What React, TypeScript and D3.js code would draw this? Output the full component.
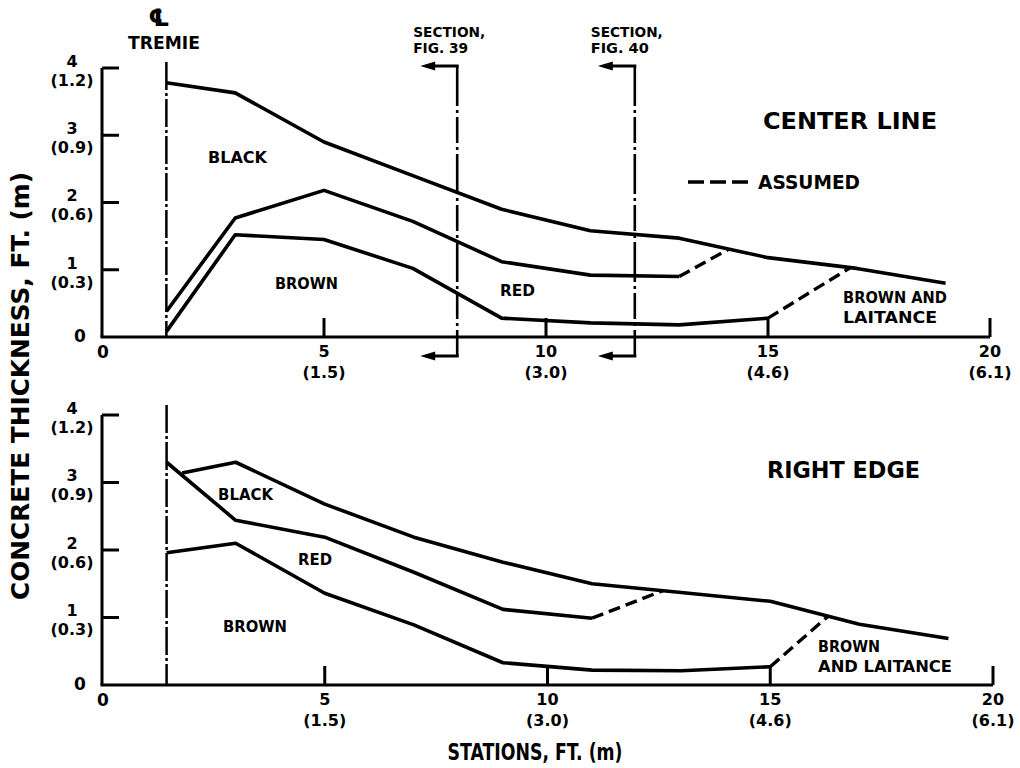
import React from "react";
import * as d3 from "d3";

// Stations along the pour (ft) and their metric equivalents
const stationTicks = [5, 10, 15, 20];
const stationMetres = ["(1.5)", "(3.0)", "(4.6)", "(6.1)"];
// Thickness ticks (ft) and metric equivalents
const thicknessTicks = [1, 2, 3, 4];
const thicknessMetres = ["(0.3)", "(0.6)", "(0.9)", "(1.2)"];

const tremieStation = 1.45;
const sectionStations = [8, 12];
const sectionFigures = ["FIG. 39", "FIG. 40"];

// CENTER LINE profile: upper boundaries of each colour layer [station ft, thickness ft]
const centerBlackTop: [number, number][] = [
  [1.45, 3.78], [3, 3.63], [5, 2.9], [7, 2.4], [9, 1.9], [11, 1.58], [13, 1.47], [15, 1.18], [17, 1.02], [19, 0.8],
];
const centerRedTop: [number, number][] = [
  [1.45, 0.38], [3, 1.77], [5, 2.18], [7, 1.72], [9, 1.12], [11, 0.92], [13, 0.9],
];
const centerRedTopAssumed: [number, number][] = [[13, 0.9], [14.1, 1.3]];
const centerBrownTop: [number, number][] = [
  [1.45, 0.08], [3, 1.52], [5, 1.45], [7, 1.02], [9, 0.28], [11, 0.21], [13, 0.18], [15, 0.28],
];
const centerBrownTopAssumed: [number, number][] = [[15, 0.28], [16.85, 1.03]];

// RIGHT EDGE profile
const edgeBlackTop: [number, number][] = [
  [1.8, 3.14], [3, 3.3], [5, 2.68], [7, 2.19], [9, 1.82], [11, 1.5], [13, 1.37], [15, 1.24], [17, 0.9], [19, 0.69],
];
const edgeRedTop: [number, number][] = [
  [1.45, 3.3], [3, 2.44], [5, 2.19], [7, 1.67], [9, 1.12], [11, 0.99],
];
const edgeRedTopAssumed: [number, number][] = [[11, 0.99], [12.6, 1.4]];
const edgeBrownTop: [number, number][] = [
  [1.45, 1.96], [3, 2.1], [5, 1.36], [7, 0.89], [9, 0.33], [11, 0.22], [13, 0.21], [15, 0.27],
];
const edgeBrownTopAssumed: [number, number][] = [[15, 0.27], [16.3, 1.02]];

const FONT = "'DejaVu Sans', Verdana, sans-serif";

type TxtProps = { x: number; y: number; s: number; w?: number; a?: "start" | "middle" | "end"; t: string };
// y is the vertical centre of capital letters
function Txt({ x, y, s, w, a = "start", t }: TxtProps) {
  return (
    <text
      x={x}
      y={y + 0.36 * s}
      fontSize={s}
      fontWeight="bold"
      fontFamily={FONT}
      textAnchor={a}
      textLength={w}
      lengthAdjust={w ? "spacingAndGlyphs" : undefined}
      fill="#000"
    >
      {t}
    </text>
  );
}

type PanelProps = {
  xRange: [number, number];
  yRange: [number, number];
  title: string;
  titlePos: [number, number, number];
  layers: { solid: [number, number][][]; dashed: [number, number][][] };
  labels: { t: string; x: number; y: number; s: number; w: number }[];
  centreTop: number;
};

function Panel({ xRange, yRange, title, titlePos, layers, labels, centreTop }: PanelProps) {
  const x = d3.scaleLinear().domain([0, 20]).range(xRange);
  const y = d3.scaleLinear().domain([0, 4]).range(yRange);
  const line = d3.line<[number, number]>().x((d) => x(d[0])).y((d) => y(d[1]));
  const base = y(0);
  const left = x(0);
  return (
    <g>
      {/* axes */}
      <line x1={left} x2={left} y1={y(4)} y2={base} stroke="#000" strokeWidth={3} />
      <line x1={left - 1.5} x2={x(20)} y1={base} y2={base} stroke="#000" strokeWidth={3} />
      {thicknessTicks.map((v, i) => (
        <g key={"yt" + v}>
          <line x1={left} x2={left + 17} y1={y(v)} y2={y(v)} stroke="#000" strokeWidth={3} />
          <Txt x={72} y={y(v) - 7} s={16} a="middle" t={String(v)} />
          <Txt x={72} y={y(v) + 12} s={16} a="middle" t={thicknessMetres[i]} />
        </g>
      ))}
      <Txt x={80} y={base - 1} s={17} a="middle" t="0" />
      <Txt x={left + 1} y={base + 15} s={17} a="middle" t="0" />
      {stationTicks.map((v, i) => (
        <g key={"xt" + v}>
          <line x1={x(v)} x2={x(v)} y1={base} y2={base - 19} stroke="#000" strokeWidth={3} />
          <Txt x={x(v)} y={base + 14} s={16} a="middle" t={String(v)} />
          <Txt x={x(v)} y={base + 35} s={16} a="middle" t={stationMetres[i]} />
        </g>
      ))}
      {/* tremie centre line */}
      <line
        x1={x(tremieStation)}
        x2={x(tremieStation)}
        y1={centreTop}
        y2={base}
        stroke="#000"
        strokeWidth={2.5}
        strokeDasharray="28,3,3,3"
      />
      {/* layer boundaries */}
      {layers.solid.map((d, i) => (
        <path key={"s" + i} d={line(d) || ""} fill="none" stroke="#000" strokeWidth={3.6} strokeLinejoin="round" />
      ))}
      {layers.dashed.map((d, i) => (
        <path key={"d" + i} d={line(d) || ""} fill="none" stroke="#000" strokeWidth={3.4} strokeDasharray="12,6" />
      ))}
      <Txt x={titlePos[0]} y={titlePos[1]} s={23} w={titlePos[2]} t={title} />
      {labels.map((l, i) => (
        <Txt key={"l" + i} x={l.x} y={l.y} s={l.s} w={l.w} t={l.t} />
      ))}
    </g>
  );
}

function SectionMark({ xPos, fig, top, bottom }: { xPos: number; fig: string; top: number; bottom: number }) {
  const tip = xPos - 37;
  const arrow = (yy: number) => (
    <g>
      <line x1={tip + 6} x2={xPos + 1.5} y1={yy} y2={yy} stroke="#000" strokeWidth={3} />
      <path d={`M${tip},${yy} L${tip + 15},${yy - 4.5} L${tip + 15},${yy + 4.5} Z`} fill="#000" />
    </g>
  );
  return (
    <g>
      <line x1={xPos} x2={xPos} y1={top} y2={bottom} stroke="#000" strokeWidth={2.6} strokeDasharray="40,4,3,4,26,4,3,4" />
      {arrow(top)}
      {arrow(bottom)}
      <Txt x={xPos - 44} y={32} s={14} w={72} t="SECTION," />
      <Txt x={xPos - 44} y={47.5} s={14} w={fig === "FIG. 39" ? 55 : 58} t={fig} />
    </g>
  );
}

export default function App() {
  const xTop = d3.scaleLinear().domain([0, 20]).range([102, 990]);
  return (
    <svg
      width={1020}
      height={768}
      viewBox="0 0 1020 768"
      style={{ position: "absolute", left: 0, top: 0, background: "#fff" }}
    >
      <rect width={1020} height={768} fill="#fff" />
      {/* centre-line symbol and tremie label */}
      <Txt x={159} y={17} s={24} a="middle" t="℄" />
      <Txt x={164} y={43} s={17} w={72} a="middle" t="TREMIE" />

      <Panel
        xRange={[102, 990]}
        yRange={[337, 68]}
        title="CENTER LINE"
        titlePos={[763, 121, 174]}
        centreTop={62}
        layers={{
          solid: [centerBlackTop, centerRedTop, centerBrownTop],
          dashed: [centerRedTopAssumed, centerBrownTopAssumed],
        }}
        labels={[
          { t: "BLACK", x: 208, y: 157, s: 16, w: 59 },
          { t: "BROWN", x: 275, y: 283, s: 16, w: 63 },
          { t: "RED", x: 500, y: 290, s: 16, w: 35 },
          { t: "BROWN AND", x: 843, y: 298, s: 15, w: 104 },
          { t: "LAITANCE", x: 843, y: 318, s: 15, w: 94 },
        ]}
      />

      {sectionStations.map((s, i) => (
        <SectionMark key={s} xPos={xTop(s)} fig={sectionFigures[i]} top={66} bottom={356} />
      ))}

      {/* legend */}
      <line x1={688} x2={750} y1={182} y2={182} stroke="#000" strokeWidth={3.4} strokeDasharray="16,6" />
      <Txt x={758} y={182} s={19} w={102} t="ASSUMED" />

      <Panel
        xRange={[102, 993]}
        yRange={[685, 415]}
        title="RIGHT EDGE"
        titlePos={[767, 470, 153]}
        centreTop={405}
        layers={{
          solid: [edgeBlackTop, edgeRedTop, edgeBrownTop],
          dashed: [edgeRedTopAssumed, edgeBrownTopAssumed],
        }}
        labels={[
          { t: "BLACK", x: 218, y: 495, s: 15, w: 55 },
          { t: "RED", x: 298, y: 560, s: 15, w: 34 },
          { t: "BROWN", x: 223, y: 627, s: 15, w: 64 },
          { t: "BROWN", x: 818, y: 647, s: 15, w: 62 },
          { t: "AND LAITANCE", x: 818, y: 667, s: 15, w: 134 },
        ]}
      />

      {/* axis titles */}
      <g transform="translate(20,386) rotate(-90)">
        <Txt x={0} y={0} s={24} w={428} a="middle" t="CONCRETE THICKNESS, FT. (m)" />
      </g>
      <Txt x={535} y={752} s={23} w={175} a="middle" t="STATIONS, FT. (m)" />
    </svg>
  );
}
